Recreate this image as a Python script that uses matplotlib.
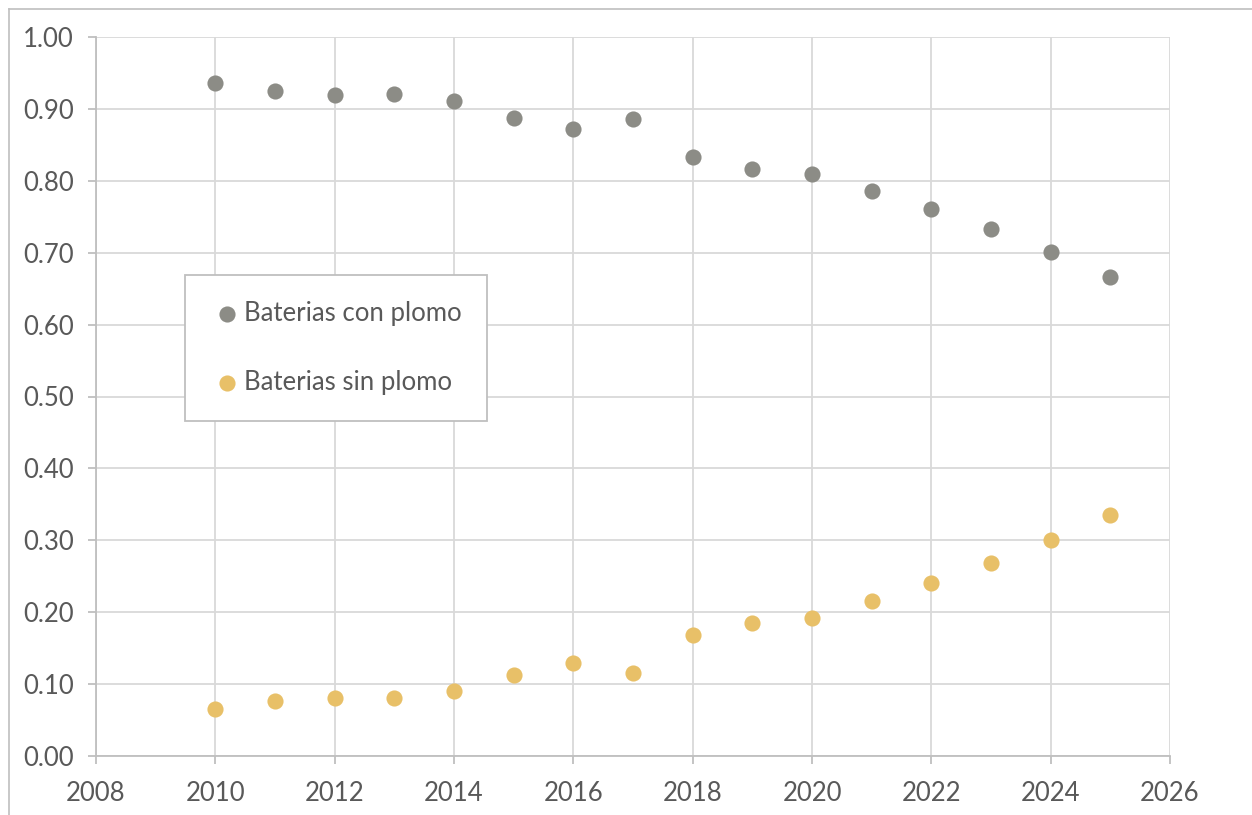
import matplotlib
matplotlib.use("Agg")
import matplotlib.pyplot as plt
from matplotlib.lines import Line2D

# data
years = [2010, 2011, 2012, 2013, 2014, 2015, 2016, 2017,
         2018, 2019, 2020, 2021, 2022, 2023, 2024, 2025]
con_plomo = [0.936, 0.925, 0.919, 0.921, 0.911, 0.887, 0.872, 0.886,
             0.833, 0.816, 0.809, 0.786, 0.761, 0.733, 0.701, 0.666]
sin_plomo = [0.065, 0.076, 0.081, 0.080, 0.090, 0.113, 0.129, 0.115,
             0.168, 0.185, 0.192, 0.215, 0.240, 0.268, 0.300, 0.335]
series_labels = ["Baterias con plomo", "Baterias sin plomo"]
x_ticks = list(range(2008, 2027, 2))
y_ticks = [i / 10 for i in range(0, 11)]

GREY = "#8C8C86"
GOLD = "#E8C068"
TXT = "#595959"

plt.rcParams["font.family"] = ["Lato", "DejaVu Sans"]

fig = plt.figure(figsize=(12.52, 8.15), dpi=100)
W, H = 1252, 815
ax = fig.add_axes([96 / W, 1 - 756 / H, (1170 - 96) / W, (756 - 37) / H])

ax.scatter(years, con_plomo, s=135, color=GREY, label=series_labels[0], zorder=3, linewidths=0)
ax.scatter(years, sin_plomo, s=135, color=GOLD, label=series_labels[1], zorder=3, linewidths=0)

ax.set_xlim(2008, 2026)
ax.set_ylim(0, 1.0)
ax.set_xticks(x_ticks)
ax.set_yticks(y_ticks)
ax.set_yticklabels([f"{v:.2f}" for v in y_ticks])
ax.grid(True, color="#D9D9D9", linewidth=1.3)
ax.set_axisbelow(True)

for side in ("top", "right"):
    ax.spines[side].set_visible(False)
for side in ("left", "bottom"):
    ax.spines[side].set_color("#BFBFBF")
    ax.spines[side].set_linewidth(1.3)

ax.tick_params(axis="both", direction="out", length=6, width=1.3, color="#BFBFBF",
               labelsize=18.5, labelcolor=TXT)
ax.tick_params(axis="y", pad=10)
ax.tick_params(axis="x", pad=12)

leg = ax.legend(loc="upper left", bbox_to_anchor=((185 - 96) / (1170 - 96), (756 - 275) / (756 - 37)),
                frameon=True, fancybox=False, fontsize=18.5, labelcolor=TXT,
                handletextpad=0.0, labelspacing=1.72, borderpad=1.0, handlelength=1.3,
                borderaxespad=0, framealpha=1)
leg.get_frame().set_edgecolor("#BFBFBF")
leg.get_frame().set_linewidth(1.3)

# outer chart frame (only top and left edges visible in the crop)
fig.add_artist(Line2D([9 / W, 9 / W], [0, 1 - 9 / H], transform=fig.transFigure,
                      color="#BFBFBF", linewidth=1.2))
fig.add_artist(Line2D([9 / W, 1], [1 - 9 / H, 1 - 9 / H], transform=fig.transFigure,
                      color="#BFBFBF", linewidth=1.2))

fig.savefig("out.png", dpi=100)
